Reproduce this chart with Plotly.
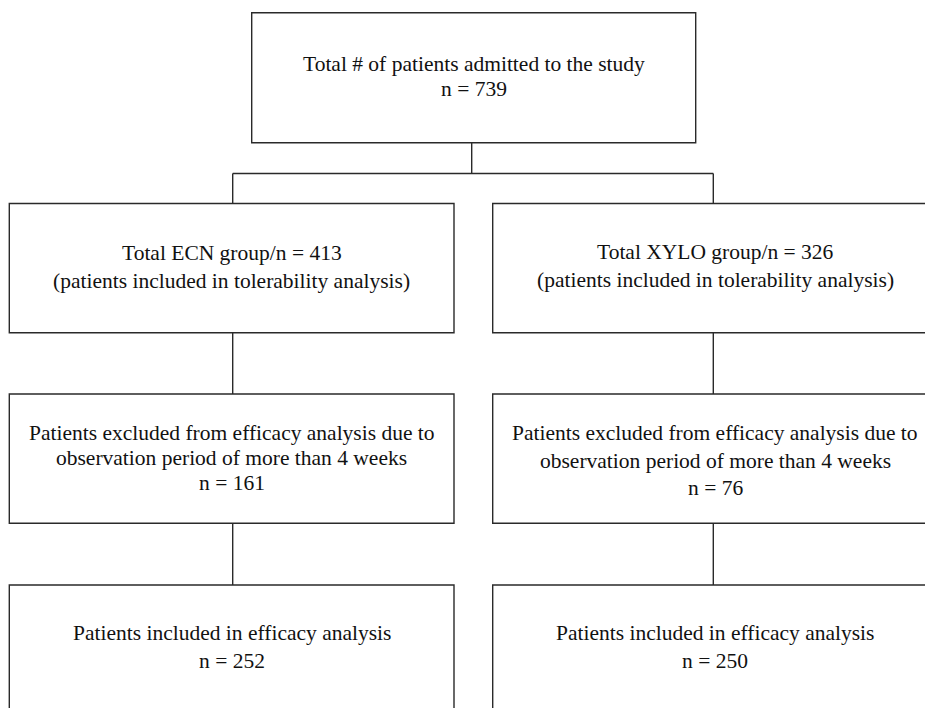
import plotly.graph_objects as go

# ---- data ----
top_label = ["Total # of patients admitted to the study"]
top_n = 739

groups = ["ECN", "XYLO"]
group_total_n = [413, 326]
group_total_text = "Total {g} group/n = {n}"
group_total_sub = "(patients included in tolerability analysis)"

excluded_lines = ["Patients excluded from efficacy analysis due to",
                  "observation period of more than 4 weeks"]
excluded_n = [161, 76]

included_lines = ["Patients included in efficacy analysis"]
included_n = [252, 250]

# ---- layout geometry (pixels) ----
W, H = 925, 708
LINE = dict(color="#2a2a2a", width=1.4)
FONT = dict(family="Liberation Serif, Times New Roman, serif", size=21.5, color="#111111")

col_x = [(9.3, 454.0), (492.7, 937.3)]
col_c = [231.7, 715.0]
top_box = (251.7, 12.7, 695.7, 142.7)
row_y = [(203.5, 332.7), (394.0, 523.3), (585.0, 760.0)]

shapes = []
def rect(x0, y0, x1, y1):
    shapes.append(dict(type="rect", xref="x", yref="y", x0=x0, y0=y0, x1=x1, y1=y1,
                       line=LINE, fillcolor="rgba(0,0,0,0)"))
def seg(x0, y0, x1, y1):
    shapes.append(dict(type="line", xref="x", yref="y", x0=x0, y0=y0, x1=x1, y1=y1, line=LINE))

rect(*top_box)
conn_x = [232.7, 713.3]
seg(471.7, top_box[3], 471.7, 173.5)
seg(conn_x[0], 173.5, conn_x[1], 173.5)
for i in range(2):
    for (y0, y1) in row_y:
        rect(col_x[i][0], y0, col_x[i][1], y1)
    seg(conn_x[i], 173.5, conn_x[i], row_y[0][0])
    seg(conn_x[i], row_y[0][1], conn_x[i], row_y[1][0])
    seg(conn_x[i], row_y[1][1], conn_x[i], row_y[2][0])

annotations = []
def txt(x, baseline, s):
    annotations.append(dict(x=x, y=baseline - 7, xref="x", yref="y", text=s,
                            showarrow=False, xanchor="center", yanchor="middle", font=FONT))

txt(474, 71, top_label[0])
txt(474, 96, f"n = {top_n}")

base_total = [(260, 288), (259, 287)]
base_excl = [(440, 465, 490), (440, 468, 495)]
base_incl = [(640, 668), (640, 668)]
for i, g in enumerate(groups):
    c = col_c[i]
    txt(c, base_total[i][0], group_total_text.format(g=g, n=group_total_n[i]))
    txt(c, base_total[i][1], group_total_sub)
    txt(c, base_excl[i][0], excluded_lines[0])
    txt(c, base_excl[i][1], excluded_lines[1])
    txt(c, base_excl[i][2], f"n = {excluded_n[i]}")
    txt(c, base_incl[i][0], included_lines[0])
    txt(c, base_incl[i][1], f"n = {included_n[i]}")

fig = go.Figure()
fig.add_trace(go.Scatter(x=[0, W], y=[0, H], mode="markers", marker=dict(opacity=0),
                         hoverinfo="skip", showlegend=False))
fig.update_layout(
    width=W, height=H, margin=dict(l=0, r=0, t=0, b=0),
    paper_bgcolor="white", plot_bgcolor="white",
    xaxis=dict(range=[0, W], visible=False, fixedrange=True),
    yaxis=dict(range=[H, 0], visible=False, fixedrange=True),
    shapes=shapes, annotations=annotations, showlegend=False,
)
fig.write_html("out.html", config={"displayModeBar": False},
               post_script="document.body.style.margin='0';document.body.style.overflow='hidden';")
